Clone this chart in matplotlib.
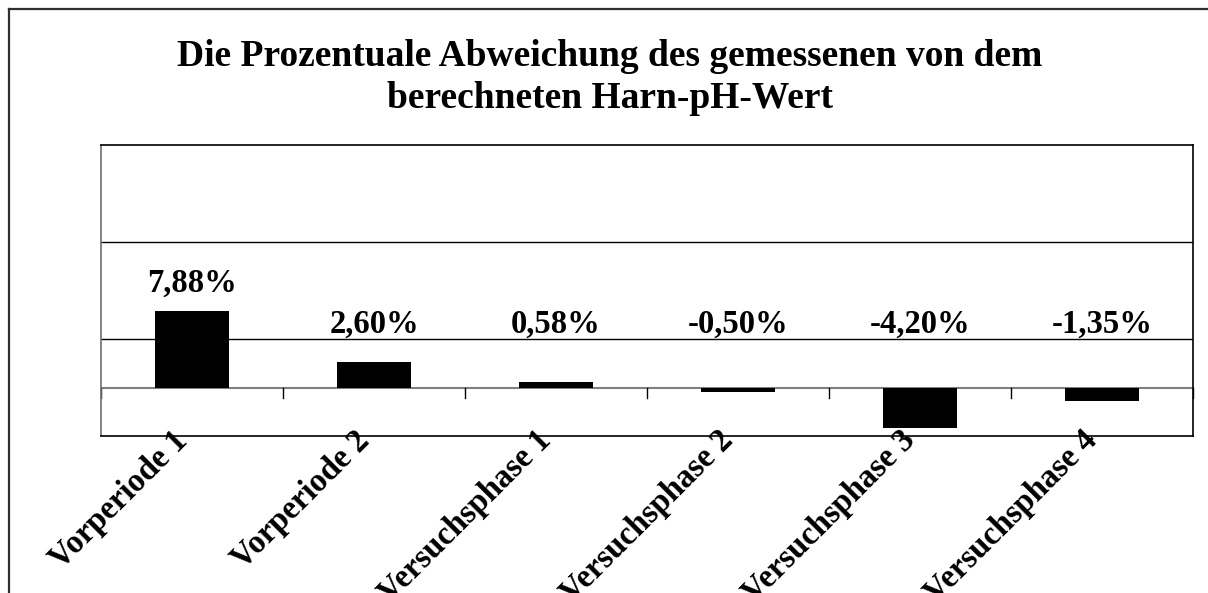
import numpy as np
import matplotlib
matplotlib.use("Agg")
import matplotlib.pyplot as plt
from matplotlib.lines import Line2D

plt.rcParams['font.family'] = ['Liberation Serif', 'DejaVu Serif']
plt.rcParams['font.weight'] = 'bold'

# Data
categories = ['Vorperiode 1', 'Vorperiode 2', 'Versuchsphase 1',
              'Versuchsphase 2', 'Versuchsphase 3', 'Versuchsphase 4']
values = [7.88, 2.60, 0.58, -0.50, -4.20, -1.35]
value_labels = ['7,88%', '2,60%', '0,58%', '-0,50%', '-4,20%', '-1,35%']
title_lines = ['Die Prozentuale Abweichung des gemessenen von dem',
               'berechneten Harn-pH-Wert']

W, H = 1208, 593
fig = plt.figure(figsize=(W / 100, H / 100), dpi=100)
ax = fig.add_axes([101 / W, 1 - 436 / H, 1092 / W, 291 / H])

x = np.arange(len(categories))
ax.bar(x, values, width=0.41, color='black', zorder=3)

ax.set_xlim(-0.5, len(categories) - 0.5)
ax.set_ylim(-5, 25)

# gridlines like Excel (-5, 5, 15, 25)
for g in [5, 15]:
    ax.axhline(g, color='black', lw=1.0, zorder=1)
for s in ax.spines.values():
    s.set_color('black')
    s.set_linewidth(1.2)
ax.spines['left'].set_color('#707070')

# zero axis with ticks between categories
ax.axhline(0, color='#7f7f7f', lw=1.5, zorder=2)
ax.set_yticks([])
ax.set_xticks([])
for b in np.arange(-0.5, len(categories) - 0.4, 1.0):
    ax.plot([b, b], [0, -1.1], color='black', lw=1.0, zorder=2, clip_on=False)

# value labels
label_y = np.maximum(np.array(values) + 2.9, 6.5)
for xi, ly, lab in zip(x, label_y, value_labels):
    ax.text(xi, ly, lab, ha='center', va='center', fontsize=23.5, fontweight='bold')

# category labels, rotated
for xi, cat in zip(x, categories):
    ax.text(xi - 0.05, -5.0, cat, ha='right', va='center', rotation=45,
            rotation_mode='anchor', fontsize=23.5, fontweight='bold')

for line, yp in zip(title_lines, [57, 99]):
    fig.text(610 / W, 1 - yp / H, line, ha='center', va='center', fontsize=27,
             fontweight='bold')

# outer chart frame (partially visible)
fig.add_artist(Line2D([9 / W, 1.0], [1 - 9 / H] * 2, color='#303030', lw=1.6))
fig.add_artist(Line2D([9 / W] * 2, [0, 1 - 9 / H], color='#303030', lw=1.6))

fig.savefig('out.png', dpi=100)
